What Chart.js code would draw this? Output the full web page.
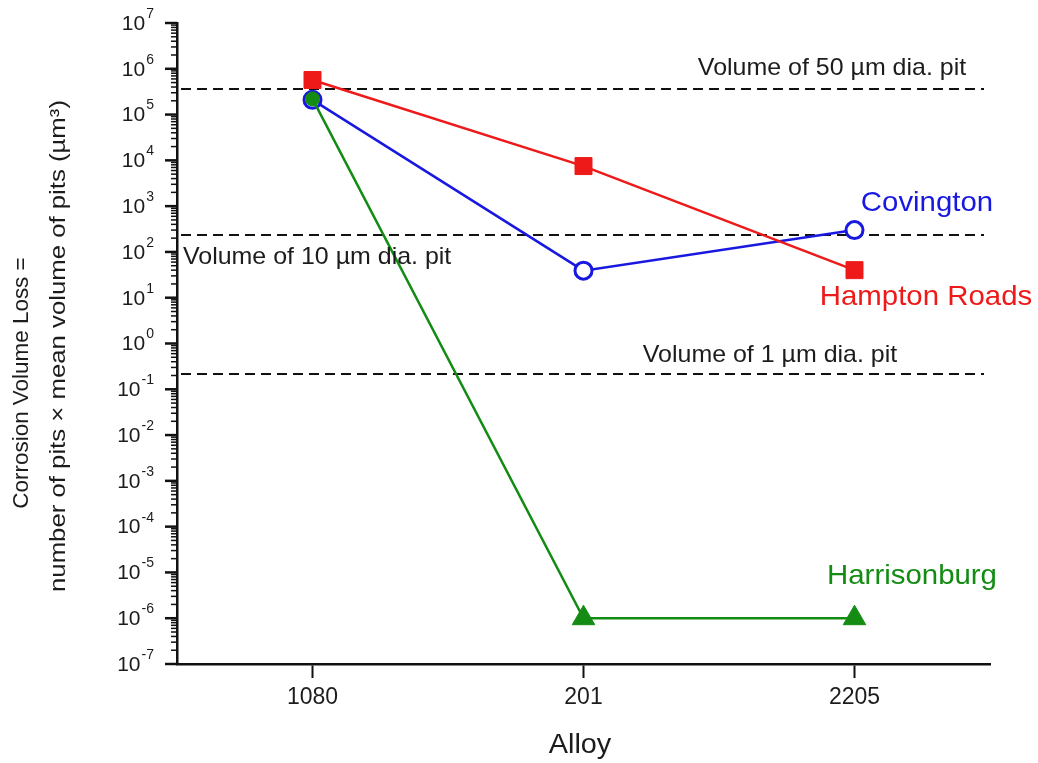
<!DOCTYPE html>
<html>
<head>
<meta charset="utf-8">
<title>Corrosion volume loss by alloy</title>
<script src="https://cdn.jsdelivr.net/npm/chart.js@4.4.1/dist/chart.umd.min.js"></script>
<style>
  html, body { margin: 0; padding: 0; background: #fff; }
  canvas { display: block; }
</style>
</head>
<body>
<canvas id="corrosionChart" width="1038" height="763"></canvas>
<script>
const alloys = ['1080', '201', '2205'];

// corrosion volume loss (µm³) per site
const hamptonRoads = [5.7e5, 7.5e3, 40];
const covington = [2.1e5, 39, 300];
const harrisonburg = [2.2e5, 1e-6, 1e-6];

// reference pit volumes (µm³), drawn as dashed lines
const pitVolumes = [3.6e5, 235, 0.216];
const pitLabels = ['Volume of 50 µm dia. pit', 'Volume of 10 µm dia. pit', 'Volume of 1 µm dia. pit'];

const decades = [-7, -6, -5, -4, -3, -2, -1, 0, 1, 2, 3, 4, 5, 6, 7];
const minorSteps = [2, 3, 4, 5, 6, 7, 8, 9];

const FONT = '"Liberation Sans", Arial, Helvetica, sans-serif';
const INK = '#111';
const TEXT = '#1c1c1c';
const RED = '#ee1a1a';
const BLUE = '#1818e0';
const GREEN = '#148c14';

const toPoints = values => values.map((y, i) => ({ x: i, y }));

function stroke(ctx, x1, y1, x2, y2) {
  ctx.beginPath();
  ctx.moveTo(x1, y1);
  ctx.lineTo(x2, y2);
  ctx.stroke();
}

// text with an optional widening along the baseline
function text(ctx, str, x, y, size, color, align, stretch) {
  ctx.save();
  ctx.translate(x, y);
  ctx.scale(stretch || 1, 1);
  ctx.font = size + 'px ' + FONT;
  ctx.fillStyle = color;
  ctx.textAlign = align || 'center';
  ctx.textBaseline = 'middle';
  ctx.fillText(str, 0, 0);
  ctx.restore();
}

const decorations = {
  id: 'decorations',
  beforeDatasetsDraw(chart) {
    const { ctx, chartArea, scales: { y } } = chart;
    ctx.save();
    ctx.strokeStyle = INK;
    ctx.lineWidth = 2;
    ctx.setLineDash([10, 6]);
    pitVolumes.forEach(v => {
      const py = y.getPixelForValue(v);
      stroke(ctx, chartArea.left + 4, py, chartArea.right - 6, py);
    });
    ctx.restore();
  },
  afterDraw(chart) {
    const { ctx, chartArea, scales: { y } } = chart;
    const left = chartArea.left;
    ctx.save();

    // log axis: long majors, short minors, all outside
    ctx.strokeStyle = INK;
    decades.forEach(n => {
      const py = y.getPixelForValue(Math.pow(10, n));
      ctx.lineWidth = 2.5;
      stroke(ctx, left - 12, py, left, py);
      if (n < 7) {
        ctx.lineWidth = 1.5;
        minorSteps.forEach(k => {
          const my = y.getPixelForValue(k * Math.pow(10, n));
          stroke(ctx, left - 6, my, left, my);
        });
      }
    });

    // 10^n labels
    decades.forEach(n => {
      const py = y.getPixelForValue(Math.pow(10, n));
      const exp = String(n);
      ctx.font = '14px ' + FONT;
      const expW = ctx.measureText(exp).width;
      const right = 154;
      text(ctx, '10', right - expW - 1, py + 1, 21, TEXT, 'right');
      text(ctx, exp, right - expW, py - 9, 14, TEXT, 'left');
    });

    // dashed line captions
    const p50 = y.getPixelForValue(pitVolumes[0]);
    const p10 = y.getPixelForValue(pitVolumes[1]);
    const p1 = y.getPixelForValue(pitVolumes[2]);
    text(ctx, pitLabels[0], 832, p50 - 21, 24, TEXT, 'center', 1.04);
    text(ctx, pitLabels[1], 183, p10 + 22, 24, TEXT, 'left', 1.04);
    text(ctx, pitLabels[2], 770, p1 - 19, 24, TEXT, 'center', 1.04);

    // site names
    text(ctx, 'Covington', 927, 203, 28, BLUE, 'center', 1.05);
    text(ctx, 'Hampton Roads', 926, 297, 28, RED, 'center', 1.05);
    text(ctx, 'Harrisonburg', 912, 576, 28, GREEN, 'center', 1.05);

    // axis titles
    text(ctx, 'Alloy', 580, 745, 28, TEXT, 'center', 1.03);
    ctx.save();
    ctx.translate(22, 383);
    ctx.rotate(-Math.PI / 2);
    text(ctx, 'Corrosion Volume Loss =', 0, 0, 22, TEXT, 'center', 1.02);
    ctx.restore();
    ctx.save();
    ctx.translate(59, 346);
    ctx.rotate(-Math.PI / 2);
    text(ctx, 'number of pits \u00d7 mean volume of pits (µm\u00b3)', 0, 0, 22, TEXT, 'center', 1.17);
    ctx.restore();

    ctx.restore();
  }
};

new Chart(document.getElementById('corrosionChart'), {
  type: 'line',
  data: {
    datasets: [
      {
        label: 'Hampton Roads',
        data: toPoints(hamptonRoads),
        borderColor: RED,
        borderWidth: 2.5,
        pointStyle: 'rect',
        pointRadius: 12,
        pointBorderWidth: 1,
        pointBackgroundColor: RED,
        pointBorderColor: RED
      },
      {
        label: 'Harrisonburg',
        data: toPoints(harrisonburg),
        borderColor: GREEN,
        borderWidth: 2.5,
        pointStyle: ['circle', 'triangle', 'triangle'],
        pointRadius: [7, 13, 13],
        pointBorderWidth: 1,
        pointBackgroundColor: GREEN,
        pointBorderColor: GREEN
      },
      {
        label: 'Covington',
        data: toPoints(covington),
        borderColor: BLUE,
        borderWidth: 2.5,
        pointStyle: 'circle',
        pointRadius: 8.5,
        pointBorderWidth: 3,
        pointBackgroundColor: '#fff',
        pointBorderColor: BLUE
      }
    ]
  },
  options: {
    responsive: false,
    animation: false,
    devicePixelRatio: 1,
    layout: { padding: { top: 23, right: 48, left: 0, bottom: 0 } },
    plugins: {
      legend: { display: false },
      tooltip: { enabled: false }
    },
    scales: {
      x: {
        type: 'linear',
        min: -0.5,
        max: 2.5,
        afterBuildTicks: s => { s.ticks = alloys.map((_, i) => ({ value: i })); },
        afterFit: s => { s.height = 99; },
        ticks: {
          callback: v => alloys[v],
          font: { family: FONT, size: 23 },
          color: TEXT,
          padding: 6,
          maxRotation: 0
        },
        grid: { drawOnChartArea: false, tickLength: 14, tickWidth: 2, tickColor: INK },
        border: { color: INK, width: 2.5 }
      },
      y: {
        type: 'logarithmic',
        min: 1e-7,
        max: 1e7,
        ticks: { display: false },
        grid: { display: false },
        border: { color: INK, width: 2.5 },
        afterFit: s => { s.width = 177; }
      }
    }
  },
  plugins: [decorations]
});
</script>
</body>
</html>
